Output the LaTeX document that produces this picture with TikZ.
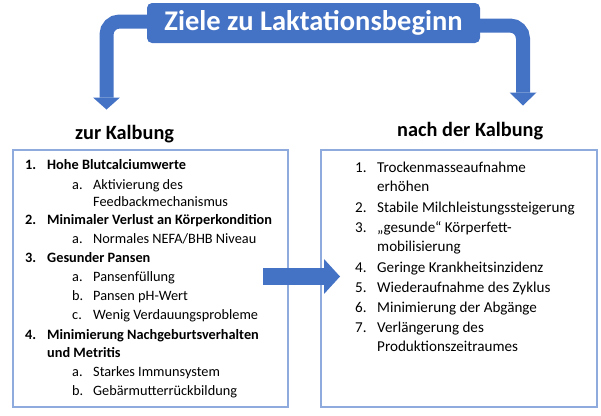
\documentclass[tikz,border=0pt]{standalone}
\usepackage{fontspec}
\setmainfont{Carlito}
\definecolor{mainblue}{HTML}{4472C4}
\definecolor{boxline}{HTML}{8FAADC}
\begin{document}
\begin{tikzpicture}[x=1pt,y=-1pt,
  titlebox/.style={fill=mainblue, rounded corners=5pt, minimum width=333pt, minimum height=40pt, inner sep=0pt, text=white, font=\fontsize{28.5}{32}\selectfont\bfseries},
  band/.style={draw=mainblue, line width=14pt, rounded corners=13pt},
  head/.style={fill=mainblue},
  heading/.style={anchor=base west, inner sep=0pt, font=\fontsize{20.3}{24}\selectfont\bfseries},
  listbox/.style={draw=boxline, line width=1.1pt, inner sep=0pt},
  itemL/.style={anchor=base west, inner sep=0pt, font=\fontsize{14.3}{17}\selectfont},
  itemR/.style={anchor=base west, inner sep=0pt, font=\fontsize{15.1}{18}\selectfont}]
\useasboundingbox (0,0) rectangle (601,415);
% arrows from title
\coordinate (lstart) at (152,21.5);
\coordinate (lbend) at (106.5,21.5);
\coordinate (lend) at (106.5,97.5);
\coordinate (ltip) at (106.5,109.5);
\coordinate (rstart) at (475,25.5);
\coordinate (rbend) at (523,25.5);
\coordinate (rend) at (523,92.5);
\coordinate (rtip) at (523,105.5);
\draw[band] (lstart) -- (lbend) -- (lend);
\fill[head] ([xshift=-13.5pt]lend) -- ([xshift=13.5pt]lend) -- (ltip) -- cycle;
\draw[band] (rstart) -- (rbend) -- (rend);
\fill[head] ([xshift=-13.5pt]rend) -- ([xshift=13.5pt]rend) -- (rtip) -- cycle;
\node[titlebox] (title) at (313.5,23) {Ziele zu Laktationsbeginn};
% headings
\node[heading] (hL) at (75,139) {zur Kalbung};
\node[heading] (hR) at (397,136) {nach der Kalbung};
% boxes
\node[listbox, minimum width=275pt, minimum height=257pt] (lbox) at (150.5,278.5) {};
\node[listbox, minimum width=276pt, minimum height=257pt] (rbox) at (459,278.5) {};
% left list
\node[itemL] (n1) at (25,169) {\bfseries 1.};
\node[itemL] (t1) at (47,169) {\bfseries Hohe Blutcalciumwerte};
\node[itemL] (n1a) at (72,189) {a.};
\node[itemL] (t1a) at (93,189) {Aktivierung des};
\node[itemL] (t1b) at (93,206) {Feedbackmechanismus};
\node[itemL] (n2) at (25,224) {\bfseries 2.};
\node[itemL] (t2) at (47,224) {\bfseries Minimaler Verlust an Körperkondition};
\node[itemL] (n2a) at (72,243) {a.};
\node[itemL] (t2a) at (93,243) {Normales NEFA/BHB Niveau};
\node[itemL] (n3) at (25,262) {\bfseries 3.};
\node[itemL] (t3) at (47,262) {\bfseries Gesunder Pansen};
\node[itemL] (n3a) at (72,281) {a.};
\node[itemL] (t3a) at (93,281) {Pansenfüllung};
\node[itemL] (n3b) at (72,300) {b.};
\node[itemL] (t3b) at (93,300) {Pansen pH-Wert};
\node[itemL] (n3c) at (72,319) {c.};
\node[itemL] (t3c) at (93,319) {Wenig Verdauungsprobleme};
\node[itemL] (n4) at (25,339) {\bfseries 4.};
\node[itemL] (t4) at (47,339) {\bfseries Minimierung Nachgeburtsverhalten};
\node[itemL] (t4x) at (47,357) {\bfseries und Metritis};
\node[itemL] (n4a) at (72,376) {a.};
\node[itemL] (t4a) at (93,376) {Starkes Immunsystem};
\node[itemL] (n4b) at (72,395) {b.};
\node[itemL] (t4b) at (93,395) {Gebärmutterrückbildung};
% right list
\node[itemR] (m1) at (355,172) {1.};
\node[itemR] (r1) at (377,172) {Trockenmasseaufnahme};
\node[itemR] (r1x) at (377,191) {erhöhen};
\node[itemR] (m2) at (355,212) {2.};
\node[itemR] (r2) at (377,212) {Stabile Milchleistungssteigerung};
\node[itemR] (m3) at (355,232) {3.};
\node[itemR] (r3) at (377,232) {„gesunde“ Körperfett-};
\node[itemR] (r3x) at (377,251) {mobilisierung};
\node[itemR] (m4) at (355,272) {4.};
\node[itemR] (r4) at (377,272) {Geringe Krankheitsinzidenz};
\node[itemR] (m5) at (355,292) {5.};
\node[itemR] (r5) at (377,292) {Wiederaufnahme des Zyklus};
\node[itemR] (m6) at (355,312) {6.};
\node[itemR] (r6) at (377,312) {Minimierung der Abgänge};
\node[itemR] (m7) at (355,332) {7.};
\node[itemR] (r7) at (377,332) {Verlängerung des};
\node[itemR] (r7x) at (377,351) {Produktionszeitraumes};
% middle arrow
\coordinate (mstart) at (263,276.5);
\coordinate (mbase) at (324,276.5);
\coordinate (mtip) at (340,276.5);
\fill[head] (263,268) rectangle (324,285);
\fill[head] (324,259) -- (mtip) -- (324,294) -- cycle;
\end{tikzpicture}
\end{document}
